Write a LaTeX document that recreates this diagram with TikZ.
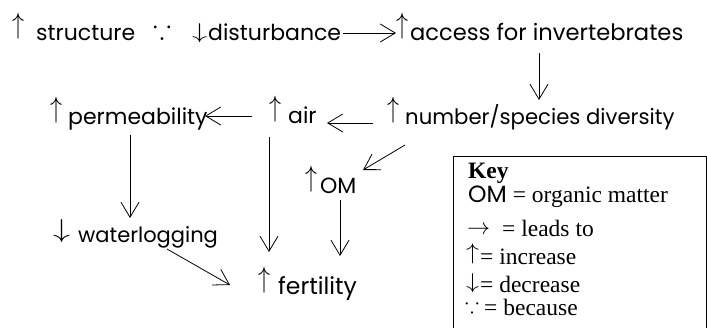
\documentclass[tikz,border=0pt]{standalone}
\usepackage{amssymb}
\usepackage{graphicx}
\usepackage{fontspec}
\setmainfont{Liberation Serif}
\newfontfamily\comic{Poppins}
\usetikzlibrary{arrows.meta}

% thin arrow glyphs: #1 = width, #2 = total height, #3 = raise
\newcommand{\Up}[3]{\raisebox{#3}{\resizebox*{#1}{#2}{$\uparrow$}}}
\newcommand{\Dn}[3]{\raisebox{#3}{\resizebox*{#1}{#2}{$\downarrow$}}}
\newcommand{\UpA}{\Up{12pt}{26pt}{6.7pt}}
\newcommand{\Bec}[1]{\resizebox{#1}{!}{$\because$}}
% fixed-width slot
\newcommand{\slot}[2]{\makebox[#1][l]{#2}}

\tikzset{
  lab/.style={anchor=base west, inner sep=0pt, font={\comic\fontsize{22}{24}\selectfont}},
  keytxt/.style={anchor=base west, inner sep=0pt, font={\fontsize{23.5}{26}\selectfont}},
  conn/.style={-{Straight Barb[length=15pt,width=18pt]}, line width=0.8pt},
}

\begin{document}
\begin{tikzpicture}[x=1pt,y=-1pt]
\useasboundingbox (0,0) rectangle (707,327);

% chain of effects
\node[lab] (row1)  at (12,40)  {\slot{24pt}{\UpA}\slot{117pt}{structure}\slot{39pt}{\raisebox{1.5pt}{\Bec{18pt}}}\slot{16pt}{\Dn{15pt}{19pt}{2pt}}disturbance};
\node[lab, font={\comic\fontsize{22.6}{24}\selectfont}] (acc) at (396,40) {\slot{14pt}{\UpA}access for invertebrates};
\node[lab, font={\comic\fontsize{21.2}{24}\selectfont}] (num) at (387,124) {\slot{18pt}{\UpA}number/species diversity};
\node[lab] (air)   at (269,123) {\slot{19pt}{\UpA}air};
\node[lab] (perm)  at (50,124) {\slot{18pt}{\UpA}permeability};
\node[lab] (om)    at (305,193) {\slot{15pt}{\UpA}OM};
\node[lab, font={\comic\fontsize{21}{24}\selectfont}] (water) at (53,242) {\slot{25pt}{\Dn{17pt}{23pt}{4.5pt}}waterlogging};
\node[lab, font={\comic\fontsize{23.5}{24}\selectfont}] (fert) at (258,294) {\slot{20pt}{\UpA}fertility};

\draw[conn] ([shift={(2,-7)}]row1.base east) -- ([shift={(0,-7)}]acc.base west);
\draw[conn] ([shift={(143,13)}]acc.base west) -- ([shift={(152,-24)}]num.base west);
\draw[conn] ([shift={(-14,-1)}]num.base west) -- ([shift={(58,0)}]air.base west);
\draw[conn] ([shift={(-17,-7)}]air.base west) -- ([shift={(155,-8)}]perm.base west);
\draw[conn] ([shift={(80,11)}]perm.base west) -- ([shift={(77,-24)}]water.base west);
\draw[conn] ([shift={(0,14)}]air.base west) -- ([shift={(11,-42)}]fert.base west);
\draw[conn] ([shift={(18,21)}]num.base west) -- ([shift={(58,-23)}]om.base west);
\draw[conn] ([shift={(35,7)}]om.base west) -- ([shift={(82,-38)}]fert.base west);
\draw[conn] ([shift={(114,7)}]water.base west) -- ([shift={(-28,-9)}]fert.base west);

% key
\node[draw, line width=0.9pt, anchor=north west, minimum width=253pt, minimum height=190pt, inner sep=0pt] (keybox) at (453,156) {};
\node[keytxt] (k0) at (468,178) {\textbf{Key}};
\node[keytxt] (k1) at (468,202) {{\comic OM} = organic matter};
\node[keytxt] (k2) at (467,236) {\slot{35pt}{\raisebox{2pt}{\resizebox{23pt}{!}{$\rightarrow$}}}= leads to};
\node[keytxt] (k3) at (466,264) {\slot{14pt}{\Up{13pt}{20pt}{4.2pt}}= increase};
\node[keytxt] (k4) at (466,292) {\slot{14pt}{\Dn{13pt}{19pt}{3.8pt}}= decrease};
\node[keytxt] (k5) at (465,315) {\slot{19pt}{\raisebox{2.5pt}{\Bec{14pt}}}= because};
\end{tikzpicture}
\end{document}
